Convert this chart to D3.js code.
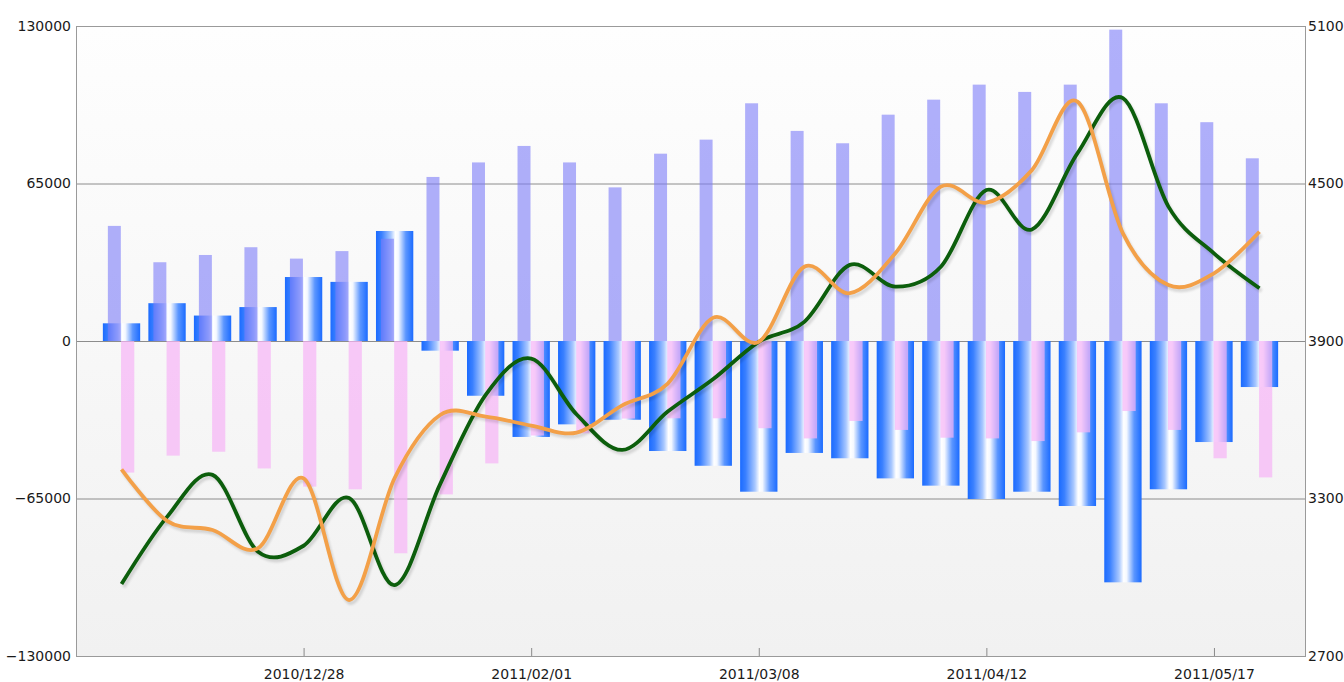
<!DOCTYPE html>
<html>
<head>
<meta charset="utf-8">
<script src="https://cdn.jsdelivr.net/npm/d3@7"></script>
<style>
  body { margin: 0; background: #fff; }
  svg { display: block; }
  .axis text { font-family: "DejaVu Sans", sans-serif; font-size: 14px; fill: #1a1a1a; }
  .axis line { stroke: #8a8a8a; }
</style>
</head>
<body>
<svg id="chart" width="1344" height="682"></svg>
<script>

const weeks = [
  "2010/11/30", "2010/12/07", "2010/12/14", "2010/12/21", "2010/12/28",
  "2011/01/04", "2011/01/11", "2011/01/18", "2011/01/25", "2011/02/01",
  "2011/02/08", "2011/02/15", "2011/02/22", "2011/03/01", "2011/03/08",
  "2011/03/15", "2011/03/22", "2011/03/29", "2011/04/05", "2011/04/12",
  "2011/04/19", "2011/04/26", "2011/05/03", "2011/05/10", "2011/05/17",
  "2011/05/24"
];

const buyVolume = [47500, 32500, 35500, 38700, 34000, 37100, 42200, 67700, 73700, 80500,
  73700, 63400, 77300, 83100, 98100, 86700, 81600, 93400, 99600, 105800,
  102800, 105800, 128500, 98100, 90300, 75400];

const sellVolume = [-54300, -47300, -45700, -52600, -60100, -61200, -87600, -63300, -50500, -39000,
  -38100, -32000, -31900, -31900, -36000, -40200, -33000, -36700, -39900, -40200,
  -41300, -37700, -28900, -36700, -48400, -56300];

const netVolume = [7300, 15600, 10500, 14000, 26400, 24400, 45400, -4000, -22600, -39600,
  -34400, -32500, -45400, -51500, -62200, -46200, -48400, -56700, -59700, -65200,
  -62200, -68100, -99600, -61200, -41700, -19000];

const greenSeries = [2974, 3230, 3390, 3097, 3120, 3302, 2970, 3355, 3695, 3833,
  3620, 3485, 3631, 3755, 3897, 3973, 4190, 4107, 4183, 4475,
  4325, 4615, 4825, 4412, 4234, 4101];

const orangeSeries = [3411, 3215, 3180, 3111, 3377, 2913, 3378, 3618, 3612, 3578,
  3551, 3655, 3738, 3989, 3897, 4183, 4082, 4234, 4488, 4427,
  4551, 4812, 4310, 4113, 4158, 4316];

const leftTicks = [-130000, -65000, 0, 65000, 130000];
const rightTicks = [2700, 3300, 3900, 4500, 5100];
const dateTicks = ["2010/12/28", "2011/02/01", "2011/03/08", "2011/04/12", "2011/05/17"];


const parseDate = d3.timeParse("%Y/%m/%d");
const dates = weeks.map(parseDate);

const margin = { left: 76, right: 1305, top: 26, bottom: 656 };
const svg = d3.select("#chart");

const x = d3.scaleTime()
    .domain([d3.timeDay.offset(dates[0], -7), d3.timeDay.offset(dates[dates.length - 1], 7)])
    .range([margin.left, margin.right]);

const yLeft = d3.scaleLinear().domain([-130000, 130000]).range([margin.bottom, margin.top]);
const yRight = d3.scaleLinear().domain([2700, 5100]).range([margin.bottom, margin.top]);

const step = x(dates[1]) - x(dates[0]);

const defs = svg.append("defs");

const bg = defs.append("linearGradient")
    .attr("id", "plotBg")
    .attr("x1", 0).attr("x2", 0).attr("y1", 0).attr("y2", 1);
bg.append("stop").attr("offset", "0%").attr("stop-color", "#fefefe");
bg.append("stop").attr("offset", "100%").attr("stop-color", "#f1f1f1");

// cylinder look for the net bars
const barGrad = defs.append("linearGradient")
    .attr("id", "netGrad")
    .attr("x1", 0).attr("x2", 1).attr("y1", 0).attr("y2", 0);
[["0%", "#1b6bff"], ["15%", "#3a80ff"], ["40%", "#a9c8ff"], ["52%", "#ffffff"],
 ["60%", "#f4f8ff"], ["80%", "#5b96ff"], ["100%", "#1b6bff"]].forEach(([o, c]) => {
  barGrad.append("stop").attr("offset", o).attr("stop-color", c);
});

const blur = defs.append("filter").attr("id", "shadowBlur");
blur.append("feGaussianBlur").attr("stdDeviation", 1.2);

svg.append("rect")
    .attr("x", margin.left)
    .attr("y", margin.top)
    .attr("width", margin.right - margin.left)
    .attr("height", margin.bottom - margin.top)
    .attr("fill", "url(#plotBg)");

// gridlines
svg.append("g")
  .selectAll("line")
  .data([65000, 0, -65000])
  .enter()
  .append("line")
    .attr("x1", margin.left)
    .attr("x2", margin.right)
    .attr("y1", (d) => yLeft(d) + 0.5)
    .attr("y2", (d) => yLeft(d) + 0.5)
    .attr("stroke", "#8c8c8c")
    .attr("stroke-width", 1);

const bars = svg.append("g");

bars.selectAll("rect.net")
    .data(netVolume)
    .enter()
    .append("rect")
      .attr("class", "net")
      .attr("x", (d, i) => x(dates[i]) - step * 0.41)
      .attr("width", step * 0.82)
      .attr("y", (d) => Math.min(yLeft(d), yLeft(0)))
      .attr("height", (d) => Math.abs(yLeft(d) - yLeft(0)))
      .attr("fill", "url(#netGrad)");

bars.selectAll("rect.buy")
    .data(buyVolume)
    .enter()
    .append("rect")
      .attr("class", "buy")
      .attr("x", (d, i) => x(dates[i]) - step * 0.3)
      .attr("width", step * 0.285)
      .attr("y", (d) => yLeft(d))
      .attr("height", (d) => yLeft(0) - yLeft(d))
      .attr("fill", "#7b7bf8")
      .attr("fill-opacity", 0.6);

bars.selectAll("rect.sell")
    .data(sellVolume)
    .enter()
    .append("rect")
      .attr("class", "sell")
      .attr("x", (d, i) => x(dates[i]) - step * 0.01)
      .attr("width", step * 0.29)
      .attr("y", yLeft(0))
      .attr("height", (d) => yLeft(d) - yLeft(0))
      .attr("fill", "#f6b4f6")
      .attr("fill-opacity", 0.7);

// border
svg.append("rect")
    .attr("x", margin.left + 0.5)
    .attr("y", margin.top + 0.5)
    .attr("width", margin.right - margin.left)
    .attr("height", margin.bottom - margin.top)
    .attr("fill", "none")
    .attr("stroke", "#9a9a9a");

const line = d3.line()
    .x((d, i) => x(dates[i]))
    .y((d) => yRight(d))
    .curve(d3.curveCardinal.tension(0));

const drawLine = (values, color) => {
  svg.append("path")
      .datum(values)
      .attr("d", line)
      .attr("transform", "translate(2,3)")
      .attr("fill", "none")
      .attr("stroke", "#000")
      .attr("stroke-opacity", 0.13)
      .attr("stroke-width", 4)
      .attr("filter", "url(#shadowBlur)");

  svg.append("path")
      .datum(values)
      .attr("d", line)
      .attr("fill", "none")
      .attr("stroke", color)
      .attr("stroke-width", 3.8)
      .attr("stroke-linejoin", "round");
};

drawLine(greenSeries, "#0c5e0c");
drawLine(orangeSeries, "#f3a048");

// axes
svg.append("g")
    .attr("class", "axis")
    .attr("transform", `translate(${margin.left},0)`)
    .call(d3.axisLeft(yLeft).tickValues(leftTicks).tickFormat(d3.format("d")).tickSize(0).tickPadding(5))
    .call((g) => g.select(".domain").remove());

svg.append("g")
    .attr("class", "axis")
    .attr("transform", `translate(${margin.right},0)`)
    .call(d3.axisRight(yRight).tickValues(rightTicks).tickFormat(d3.format("d")).tickSize(0).tickPadding(3))
    .call((g) => g.select(".domain").remove());

svg.append("g")
    .attr("class", "axis")
    .attr("transform", `translate(0,${margin.bottom})`)
    .call(d3.axisBottom(x)
      .tickValues(dateTicks.map(parseDate))
      .tickFormat(d3.timeFormat("%Y/%m/%d"))
      .tickSize(-8)
      .tickPadding(13))
    .call((g) => g.select(".domain").remove());

</script>
</body>
</html>
